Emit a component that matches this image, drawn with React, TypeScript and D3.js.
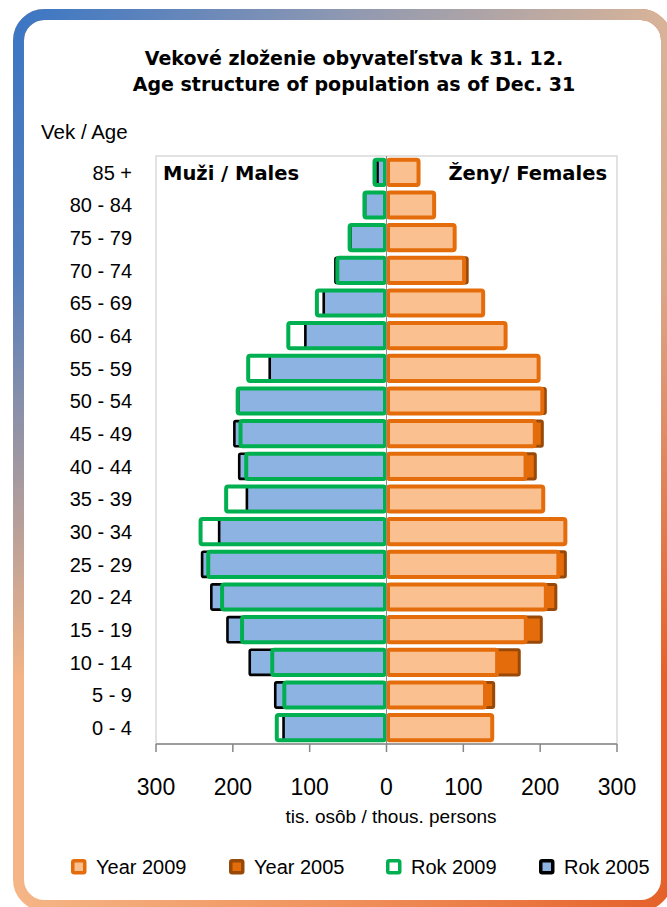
import React from "react";
import * as d3 from "d3";

const ages = ["85 +", "80 - 84", "75 - 79", "70 - 74", "65 - 69", "60 - 64", "55 - 59", "50 - 54", "45 - 49", "40 - 44", "35 - 39", "30 - 34", "25 - 29", "20 - 24", "15 - 19", "10 - 14", "5 - 9", "0 - 4"];
const males2009 = [15.6, 28.7, 48, 64, 90.6, 127.8, 180, 193.7, 190, 182.6, 208.7, 242, 232, 214, 188, 148.7, 133, 142.8];
const males2005 = [11.7, 28, 47, 66.5, 81.7, 105.6, 152, 193, 198, 191.7, 181.7, 217.8, 240, 228, 207, 178, 144.8, 134];
const females2009 = [41.7, 62, 88.7, 101, 125.8, 155, 198, 202.8, 193, 181, 204, 232.8, 223.7, 207.4, 181.3, 144, 128.2, 137.6];
const females2005 = [33, 50, 84, 105, 113, 126, 170, 206.7, 202.8, 193.7, 182, 212, 232.8, 220.4, 201.5, 172.8, 139.5, 126];
const xTicks = [-300, -200, -100, 0, 100, 200, 300];
const legendLabels = ["Year 2009", "Year 2005", "Rok 2009", "Rok 2005"];

const W = 667, H = 907;
const plot = { left: 156, right: 617, top: 156, bottom: 744 };

const C = {
  blue: "#8db3e2",
  green: "#00b050",
  orange: "#e46c0a",
  light: "#fac090",
  brown: "#984807",
  black: "#000000",
};

const legendStyles = [
  { fill: C.light, stroke: C.orange },
  { fill: C.orange, stroke: C.brown },
  { fill: "#ffffff", stroke: C.green },
  { fill: C.blue, stroke: C.black },
];
const legendX = [71, 229, 386, 539];

const sansR = "'Liberation Sans', Arial, sans-serif";
const sansB = "'DejaVu Sans', Verdana, sans-serif";

export default function App() {
  const x = d3.scaleLinear().domain([-300, 300]).range([plot.left, plot.right]);
  const y = d3.scaleBand<string>().domain(ages).range([plot.top, plot.bottom]).paddingInner(0.23).paddingOuter(0.115);
  const bw = y.bandwidth();
  const x0 = x(0);
  const gap = 1.5;

  return (
    <svg width={W} height={H} style={{ position: "absolute", left: 0, top: 0, display: "block", background: "#fff" }}>
      <defs>
        <linearGradient id="topG" x1="0" y1="0" x2="1" y2="0">
          <stop offset="0" stopColor="#3a75c4" />
          <stop offset="0.5" stopColor="#8d98b2" />
          <stop offset="1" stopColor="#d8b49a" />
        </linearGradient>
        <linearGradient id="botG" x1="0" y1="0" x2="1" y2="0">
          <stop offset="0" stopColor="#f5b586" />
          <stop offset="0.5" stopColor="#f0915c" />
          <stop offset="1" stopColor="#e5612a" />
        </linearGradient>
        <linearGradient id="fadeV" x1="0" y1="0" x2="0" y2="1">
          <stop offset="0" stopColor="#fff" />
          <stop offset="0.3" stopColor="#ddd" />
          <stop offset="0.75" stopColor="#000" />
          <stop offset="1" stopColor="#000" />
        </linearGradient>
        <mask id="fadeMask" maskUnits="userSpaceOnUse" x="0" y="0" width={W} height={H}>
          <rect x="0" y="0" width={W} height={H} fill="url(#fadeV)" />
        </mask>
      </defs>

      {/* frame */}
      <rect x={18.5} y={14.5} width={648} height={891} rx={26} fill="none" stroke="url(#botG)" strokeWidth={11} />
      <rect x={18.5} y={14.5} width={648} height={891} rx={26} fill="none" stroke="url(#topG)" strokeWidth={11} mask="url(#fadeMask)" />

      {/* title */}
      <text x={354} y={65} textAnchor="middle" fontFamily={sansB} fontWeight="bold" fontSize={19} fill="#000">
        Vekové zloženie obyvateľstva k 31. 12.
      </text>
      <text x={354} y={91} textAnchor="middle" fontFamily={sansB} fontWeight="bold" fontSize={19} fill="#000">
        Age structure of population as of Dec. 31
      </text>

      <text x={41} y={139} fontFamily={sansR} fontSize={20.5} fill="#000">Vek / Age</text>

      {/* plot border */}
      <rect x={plot.left} y={plot.top} width={plot.right - plot.left} height={plot.bottom - plot.top} fill="none" stroke="#d9d9d9" strokeWidth={1.5} />

      {/* age labels */}
      {ages.map((a) => (
        <text key={a} x={132} y={(y(a) as number) + bw / 2} dy="0.36em" textAnchor="end" fontFamily={sansR} fontSize={20} fill="#000">
          {a}
        </text>
      ))}

      {/* males 2005 */}
      {ages.map((a, i) => (
        <rect key={"m05" + a} x={x(-males2005[i])} y={y(a) as number} width={x0 - gap - x(-males2005[i])} height={bw} rx={1.5}
          fill={C.blue} stroke={C.black} strokeWidth={2.6} />
      ))}
      {/* males 2009 */}
      {ages.map((a, i) => (
        <rect key={"m09" + a} x={x(-males2009[i])} y={y(a) as number} width={x0 - gap - x(-males2009[i])} height={bw} rx={2}
          fill="none" stroke={C.green} strokeWidth={4} />
      ))}
      {/* females 2005 */}
      {ages.map((a, i) => (
        <rect key={"f05" + a} x={x0 + gap} y={y(a) as number} width={x(females2005[i]) - x0 - gap} height={bw} rx={1.5}
          fill={C.orange} stroke={C.brown} strokeWidth={3} />
      ))}
      {/* females 2009 */}
      {ages.map((a, i) => (
        <rect key={"f09" + a} x={x0 + gap} y={y(a) as number} width={x(females2009[i]) - x0 - gap} height={bw} rx={2}
          fill={C.light} stroke={C.orange} strokeWidth={4} />
      ))}

      {/* center line */}
      <line x1={x0} x2={x0} y1={plot.top} y2={plot.bottom} stroke="#8c8c8c" strokeWidth={1} />

      {/* series labels */}
      <text x={163} y={180} fontFamily={sansB} fontWeight="bold" fontSize={19.5} fill="#000">Muži / Males</text>
      <text x={607} y={180} textAnchor="end" fontFamily={sansB} fontWeight="bold" fontSize={19.5} fill="#000">Ženy/ Females</text>

      {/* x axis */}
      <line x1={plot.left} x2={plot.right} y1={plot.bottom} y2={plot.bottom} stroke="#868686" strokeWidth={1.5} />
      {xTicks.map((t) => (
        <g key={t}>
          <line x1={x(t)} x2={x(t)} y1={plot.bottom} y2={plot.bottom + 8} stroke="#868686" strokeWidth={1.5} />
          <text x={x(t)} y={795} textAnchor="middle" fontFamily={sansR} fontSize={23} fill="#000">{Math.abs(t)}</text>
        </g>
      ))}
      <text x={391} y={823} textAnchor="middle" fontFamily={sansR} fontSize={19} fill="#000">tis. osôb / thous. persons</text>

      {/* legend */}
      {legendLabels.map((l, i) => (
        <g key={l}>
          <rect x={legendX[i] + 1.75} y={860.75} width={12} height={12} rx={1.5} fill={legendStyles[i].fill} stroke={legendStyles[i].stroke} strokeWidth={3.5} />
          <text x={legendX[i] + 25} y={874} fontFamily={sansR} fontSize={20} fill="#000">{l}</text>
        </g>
      ))}
    </svg>
  );
}
